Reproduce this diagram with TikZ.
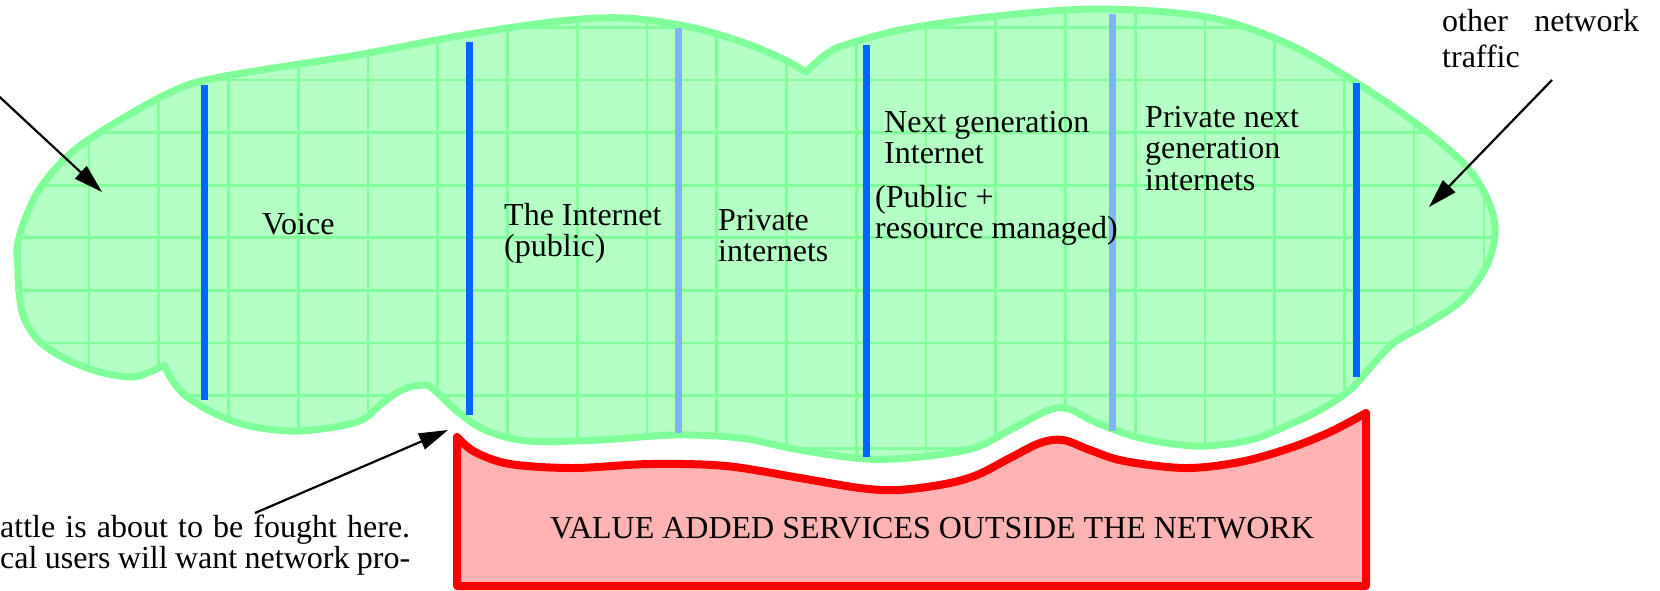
\documentclass[tikz,border=0pt]{standalone}
\usepackage{fontspec}
\setmainfont{Liberation Serif}
\usetikzlibrary{arrows.meta}
\definecolor{cloudfill}{RGB}{179,255,196}
\definecolor{cloudline}{RGB}{128,255,153}
\definecolor{chanblue}{RGB}{0,102,255}
\definecolor{chanlight}{RGB}{128,179,255}
\definecolor{vasred}{RGB}{255,0,0}
\definecolor{vasfill}{RGB}{255,179,179}
\newcommand{\cloudshape}{(164,365) -- plot[smooth,tension=0.55] coordinates {(164,365) (152,371) (132,377) (100,372) (68,360) (40,342) (24,318) (19,292) (18,268) (17,248) (24,222) (40,188) (71,153) (110,126) (171,92) (220,77) (357,55) (464,35) (560,21) (625,18) (690,27) (745,43) (785,60) (806,72)}
 -- plot[smooth,tension=0.55] coordinates {(806,72) (825,55) (845,45) (905,29) (997,16) (1100,9) (1207,17) (1286,43) (1357,83) (1421,127) (1468,168) (1490,205) (1495,235) (1486,267) (1462,300) (1425,325) (1395,342) (1375,362) (1350,390) (1320,410) (1293,423) (1250,440) (1197,446) (1140,438) (1095,422) (1072,410) (1057,408) (1040,414) (1010,430) (974,448) (920,457) (866,459) (800,450) (740,438) (674,435) (600,440) (528,441) (485,430) (458,412) (440,395) (428,385)}
 -- plot[smooth,tension=0.55] coordinates {(428,385) (414,386) (398,392) (380,405) (357,422) (300,431) (250,426) (214,413) (186,396) (172,380) (164,365)} -- cycle}
\tikzset{
  lbl/.style={font=\fontsize{32pt}{31.5pt}\selectfont, inner sep=0pt, anchor=base west},
  gridline/.style={draw=cloudline, line width=2.7pt},
  cloudborder/.style={draw=cloudline, line width=7pt, line join=round},
  chan/.style={draw=chanblue, line width=7pt},
  chanlt/.style={draw=chanlight, line width=7pt},
  vasborder/.style={draw=vasred, fill=vasfill, line width=8pt, line join=round},
  pointer/.style={draw=black, line width=2.2pt, -{Triangle[length=29pt,width=17pt]}}
}
\begin{document}
\begin{tikzpicture}[x=1pt,y=-1pt]
\useasboundingbox (0,0) rectangle (1660,590);
\fill[white] (0,0) rectangle (1660,590);
% cloud
\fill[cloudfill] \cloudshape;
\begin{scope}
\clip \cloudshape;
\foreach \i in {0,...,21} \draw[gridline] ({19.3+69.74*\i},0) -- ({19.3+69.74*\i},470);
\foreach \j in {0,...,8} \draw[gridline] (0,{27.4+52.6*\j}) -- (1510,{27.4+52.6*\j});
\end{scope}
\draw[cloudborder] \cloudshape;
% channel separators
\draw[chan] (204,85) -- (204,400);
\draw[chan] (469,42) -- (469,415);
\draw[chanlt] (678,28) -- (678,433);
\draw[chan] (866,45) -- (866,457);
\draw[chanlt] (1112,14) -- (1112,431);
\draw[chan] (1356,83) -- (1356,377);
% value added services
\draw[vasborder] (457,437) -- plot[smooth,tension=0.55] coordinates {(457,437) (475,452) (510,464) (573,468) (650,464) (726,466) (800,478) (860,488) (898,490) (945,484) (977,475) (1010,458) (1040,443) (1063,440) (1090,450) (1124,461) (1185,468) (1240,462) (1290,448) (1330,432) (1366,413)} -- (1366,586) -- (457,586) -- cycle;
% labels
\node[lbl] (voice) at (262,234) {Voice};
\node[lbl] (inet) at (504,225) {\vtop{\hbox{The Internet}\hbox{(public)}}};
\node[lbl] (priv) at (718,230) {\vtop{\hbox{Private}\hbox{internets}}};
\node[lbl] (nextgen) at (884,132) {\vtop{\hbox{Next generation}\hbox{Internet}}};
\node[lbl] (pubres) at (875,207) {\vtop{\hbox{(Public +}\hbox{resource managed)}}};
\node[lbl] (privnext) at (1145,127) {\vtop{\hbox{Private next}\hbox{generation}\hbox{internets}}};
\node[lbl] (other) at (1442,31) {\vtop{\baselineskip=36pt\hbox{\makebox[197pt][s]{other network}}\hbox{traffic}}};
\node[lbl, anchor=base] (vas) at (932,538) {VALUE ADDED SERVICES OUTSIDE THE NETWORK};
\node[lbl] (battle) at (0,537) {\vtop{\baselineskip=31pt\hbox{\makebox[410pt][s]{attle is about to be fought here.}}\hbox{\makebox[410pt][s]{cal users will want network pro-}}}};
% pointers
\coordinate (p1s) at (-10,88);
\coordinate (p1e) at (102,192);
\coordinate (p2s) at (1552,80);
\coordinate (p2e) at (1429,207);
\coordinate (p3s) at (255,513);
\coordinate (p3e) at (448,430);
\draw[pointer] (p1s) -- (p1e);
\draw[pointer] (p2s) -- (p2e);
\draw[pointer] (p3s) -- (p3e);
\end{tikzpicture}
\end{document}
